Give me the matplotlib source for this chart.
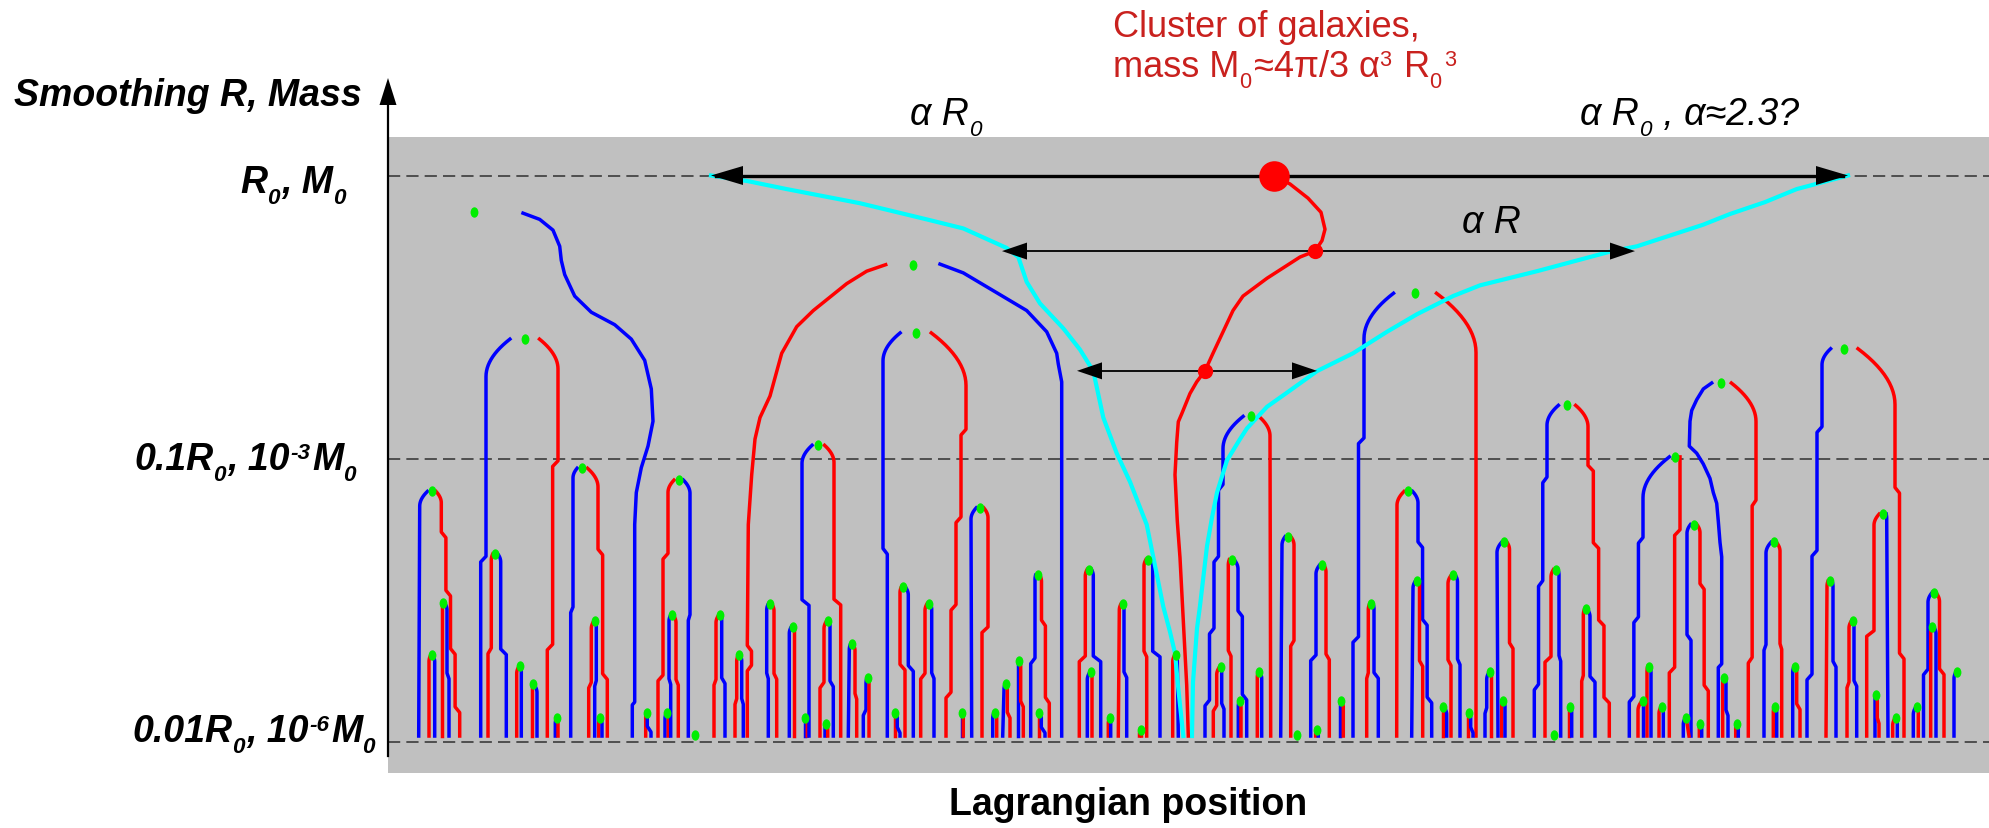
import numpy as np
import matplotlib
matplotlib.use("Agg")
import matplotlib.pyplot as plt
from matplotlib.path import Path
from matplotlib.transforms import Affine2D, IdentityTransform

# x = Lagrangian position (arbitrary units), y = log10(R / R0)
LEVELS = [0, -1, -2]
BASE = -1.98          # where the smallest branches end

# merger points: (x, logR, left colour, left top x, left foot x, right colour, right top x, right foot x)
arches_left = [
    (85.7, -0.13, None, 0, 0, None, 0, 0),
    (136.7, -0.578, 'b', 98, 92.7, 'r', 170, 159.3),
    (43.7, -1.116, 'b', 31.7, 30.7, 'r', 53.3, 71.7),
    (55.0, -1.51, 'r', 54.3, 54.3, 'b', 59, 61),
    (43.7, -1.695, 'r', 41, 41, 'b', 46.7, 46.7),
    (107.3, -1.337, 'r', 103.3, 100, 'b', 112.7, 118.3),
    (132.0, -1.734, 'r', 128.7, 128.7, 'b', 133.3, 133.3),
    (144.7, -1.796, 'r', 144, 144, 'b', 149, 149),
    (169.0, -1.917, 'b', 167.3, 167.3, 'r', 170, 170),
    (194.3, -1.034, 'b', 185, 182.7, 'r', 210, 219.3),
    (207.3, -1.574, 'r', 203.3, 200.7, 'b', 208.3, 206.7),
    (212.0, -1.917, 'r', 210.7, 210.7, 'b', 214, 214),
    (258.7, -1.897, 'r', 257.7, 257.7, 'b', 259.3, 263),
    (279.3, -1.897, 'b', 277, 277, 'r', 280.3, 280.3),
    (284.0, -1.554, 'b', 281, 282.7, 'r', 288, 290.3),
    (290.7, -1.076, 'r', 280, 270, 'b', 302, 300.3),
]
arches_mid = [
    (306.7, -1.977, 'b', 305.5, 305.5, 'b', 308, 308),
    (332.0, -1.554, 'r', 328, 326, 'b', 333.7, 337),
    (351.3, -1.695, 'r', 348.7, 347, 'b', 353.7, 355.3),
    (524.7, -0.315, None, 0, 0, None, 0, 0),
    (382.0, -1.513, 'b', 378.7, 380.3, 'r', 386, 388.7),
    (404.7, -1.594, 'b', 401.3, 401.3, 'r', 406, 406),
    (417.3, -1.917, 'b', 417, 417, 'r', 419.3, 419.3),
    (430.3, -0.953, 'b', 414, 421, 'r', 446, 452.7),
    (440.0, -1.574, 'r', 436, 432, 'b', 442, 445.3),
    (438.3, -1.937, 'b', 437, 437, 'r', 439.7, 439.7),
    (463.7, -1.655, 'b', 461.3, 460.3, 'r', 467, 468.7),
    (479.7, -1.776, 'b', 478, 475.3, 'r', 481, 481),
    (527.7, -0.556, 'b', 495, 499.3, 'r', 578, 558),
    (507.3, -1.897, 'r', 507, 507, 'b', 509.3, 512),
    (515.3, -1.453, 'r', 512, 517, 'b', 520.3, 525.3),
    (540.7, -1.513, 'r', 537, 532.7, 'b', 543.7, 546),
    (592.0, -1.174, 'b', 583, 583.7, 'r', 600, 594),
    (574.3, -1.897, 'b', 573.7, 573.7, 'r', 575.3, 575.3),
    (606.7, -1.897, 'b', 604.7, 604.7, 'r', 608.7, 608.7),
    (618.0, -1.796, 'b', 616, 614.7, 'r', 619.3, 622),
    (630.7, -1.715, 'b', 630, 630, 'r', 632.7, 635.3),
    (649.7, -1.412, 'b', 647, 642.7, 'r', 653.5, 661.3),
    (651.3, -1.897, 'r', 650.7, 650.7, 'b', 653.3, 657),
    (701.3, -1.392, 'r', 697.3, 691.3, 'b', 705.3, 712.7),
    (702.7, -1.755, 'b', 699.3, 699.3, 'r', 704, 704),
    (722.0, -1.917, 'r', 720.3, 720.3, 'b', 722.7, 722.7),
    (734.7, -1.513, 'r', 731.3, 730.3, 'b', 736, 738.7),
    (752.7, -1.957, 'r', 751.5, 751.5, 'r', 753.5, 753.5),
    (760.3, -1.357, 'r', 756, 758.7, 'b', 764.7, 772),
    (787.7, -1.695, 'r', 784.7, 784.7, 'b', 789.3, 790.3),
]
arches_centre = [
    (863.0, -0.851, 'b', 835, 817, 'r', 882, 882.7),
    (843.7, -1.357, 'r', 840.3, 843, 'b', 850, 858.7),
    (832.7, -1.735, 'r', 828.7, 825.3, 'b', 833.7, 836),
    (852.0, -1.856, 'b', 850.3, 850.3, 'r', 853, 853),
    (871.0, -1.755, 'r', 869.3, 869.3, 'b', 873.7, 873.7),
    (900.0, -1.276, 'b', 894, 892.7, 'r', 906, 902.7),
    (909.3, -1.977, 'b', 908, 908, 'r', 910.5, 910.5),
    (933.7, -1.377, 'b', 928, 922.7, 'r', 938, 941.3),
    (928.7, -1.957, 'r', 927.7, 927.7, 'b', 930.3, 930.3),
    (952.7, -1.856, 'b', 952, 952, 'r', 955.3, 955.3),
    (1027.0, -0.416, 'b', 976, 965, 'r', 1088, 1088),
    (1020.3, -1.116, 'r', 1009, 1008.7, 'b', 1030, 1043.7),
    (1029.3, -1.433, 'b', 1025, 1023.7, 'r', 1031.5, 1034.7),
    (983.3, -1.513, 'r', 980.3, 978.7, 'b', 986, 990.3),
    (1065.3, -1.412, 'r', 1060, 1063, 'b', 1069.5, 1072),
    (1055.3, -1.877, 'r', 1054.7, 1054.7, 'b', 1058.7, 1058.7),
    (1080.7, -1.897, 'r', 1080.3, 1080.3, 'b', 1082.7, 1085),
]
arches_right = [
    (1102.0, -1.755, 'b', 1098.7, 1097, 'r', 1102.7, 1102.7),
    (1116.3, -1.296, 'b', 1109, 1110, 'r', 1121.5, 1125),
    (1114.7, -1.856, 'r', 1113.7, 1113.7, 'b', 1117, 1117),
    (1179.0, -0.812, 'b', 1159, 1146.3, 'r', 1200, 1221.3),
    (1167.7, -1.392, 'r', 1163, 1157, 'b', 1171, 1172.7),
    (1166.3, -1.977, 'b', 1165, 1165, 'b', 1168, 1168),
    (1182.0, -1.877, 'r', 1181.3, 1181.3, 'b', 1183.7, 1183.7),
    (1198.0, -1.533, 'r', 1195.3, 1193.7, 'b', 1202, 1207),
    (1287.0, -0.994, 'b', 1255, 1241.3, 'r', 1292, 1281.3),
    (1333.0, -0.733, None, 0, 0, 'r', 1368, 1360.3),
    (1305.7, -1.233, 'b', 1299, 1303, 'r', 1312, 1320.3),
    (1260.7, -1.735, 'r', 1259, 1259, 'b', 1263, 1263),
    (1254.7, -1.856, 'r', 1250, 1250, 'b', 1255.5, 1255.5),
    (1273.7, -1.877, 'r', 1271, 1271, 'b', 1275.3, 1275.3),
    (1297.7, -1.917, 'b', 1295.3, 1295.3, 'r', 1299, 1301),
    (1312.0, -1.937, 'r', 1311.3, 1311.3, 'b', 1313.7, 1313.7),
    (1336.0, -1.776, 'r', 1334.7, 1334.7, 'b', 1338, 1340),
    (1348.7, -1.937, 'r', 1347.7, 1347.7, 'b', 1350.3, 1350.3),
    (1456.3, -0.612, 'b', 1434, 1419, 'r', 1507, 1516),
    (1385.7, -1.296, 'b', 1378, 1376, 'r', 1392, 1393.7),
    (1387.0, -1.877, 'r', 1385.3, 1385.3, 'b', 1388.7, 1388.7),
    (1407.0, -1.735, 'b', 1404.7, 1404.7, 'r', 1408.7, 1412),
    (1442.0, -1.433, 'r', 1439, 1438, 'b', 1445, 1448),
    (1464.7, -1.574, 'r', 1461, 1459, 'b', 1466, 1468.7),
    (1494.7, -1.196, 'r', 1486, 1478.7, 'b', 1498.7, 1500),
    (1488.3, -1.836, 'b', 1487, 1487, 'r', 1489.3, 1491),
    (1507.7, -1.917, 'r', 1504.7, 1504.7, 'b', 1509.3, 1509.3),
    (1546.0, -1.473, 'b', 1540, 1535.5, 'r', 1551.5, 1556),
    (1544.3, -1.594, 'r', 1542.7, 1542.7, 'b', 1548, 1548),
    (1528.7, -1.877, 'b', 1525.3, 1525.3, 'r', 1530.3, 1530.3),
    (1568.7, -1.755, 'b', 1566, 1566, None, 0, 0),
]

# branches that wander too much for the simple arch shape
wavy_blue_x = [135, 151.7, 165, 171.7, 173.3, 176.7, 186.7, 203.3, 226.7, 243.3, 256.7, 263.3,
               265, 260, 253.3, 248.3, 246.7, 246.7, 244.3, 244.3]
wavy_blue_y = [-0.133, -0.155, -0.193, -0.25, -0.30, -0.35, -0.426, -0.483, -0.527, -0.578, -0.653,
               -0.754, -0.868, -0.956, -1.032, -1.12, -1.233, -1.86, -1.87, -1.98]
sweep_red_x = [497.7, 478.7, 458.7, 425.3, 408.7, 393.7, 382, 372, 367, 363.7, 360.3, 359.3,
               363.5, 363.5, 359.3, 359.3]
sweep_red_y = [-0.315, -0.338, -0.382, -0.477, -0.534, -0.628, -0.779, -0.855, -0.931, -1.057,
               -1.233, -1.66, -1.68, -1.73, -1.75, -1.98]
sweep_blue_x = [552, 575.3, 608.7, 638.7, 658.7, 668.7, 670.3, 673.7, 673.7]
sweep_blue_y = [-0.313, -0.344, -0.414, -0.477, -0.552, -0.628, -0.666, -0.729, -1.98]
s_blue_x = [1323.7, 1315.3, 1308.7, 1303.7, 1302, 1301.3, 1308.7, 1315.3, 1322, 1325.3, 1328.7,
            1330.3, 1332, 1333.7, 1333.7, 1330.3, 1330.3]
s_blue_y = [-0.733, -0.754, -0.792, -0.83, -0.868, -0.956, -0.981, -1.019, -1.07, -1.12, -1.158,
            -1.221, -1.296, -1.347, -1.725, -1.738, -1.98]

# cluster trajectory and the two alpha*R envelopes
trunk_x = [886, 902, 920, 933, 937, 934, 927, 912, 879, 855, 845, 825, 817, 808.7, 802, 793.7,
           790.3, 788.7, 787, 789.3, 792, 796, 798.7, 800.3]
trunk_y = [0, -0.03, -0.08, -0.13, -0.19, -0.23, -0.267, -0.288, -0.363, -0.426, -0.477, -0.628,
           -0.69, -0.729, -0.77, -0.842, -0.87, -0.943, -1.057, -1.221, -1.35, -1.62, -1.80, -1.98]
cyan_left_x = [323, 360, 398.7, 472, 538.7, 575.3, 618.7, 630.3, 638.7, 652, 675.3, 692, 705.3,
               715.3, 728.7, 742, 758.7, 775.3, 782, 787, 790.3, 795.3]
cyan_left_y = [0, -0.02, -0.048, -0.098, -0.155, -0.187, -0.256, -0.288, -0.376, -0.452, -0.54,
               -0.615, -0.691, -0.855, -0.981, -1.082, -1.233, -1.523, -1.612, -1.687, -1.813, -1.98]
cyan_right_x = [1460, 1408.7, 1377, 1342, 1315, 1249, 1222, 1149, 1092, 1065, 1029, 999, 965, 929,
                899, 879, 859, 852, 839, 829, 824, 819, 812, 809, 805, 804]
cyan_right_y = [0, -0.048, -0.094, -0.136, -0.174, -0.25, -0.269, -0.338, -0.388, -0.426, -0.49,
                -0.552, -0.628, -0.691, -0.767, -0.817, -0.893, -0.931, -1.006, -1.12, -1.208,
                -1.309, -1.52, -1.6, -1.79, -1.98]

# double arrows (x from, x to, logR) and the cluster points on them
arrows = [(323, 1460, 0.0), (614, 1247, -0.267), (689, 929, -0.69)]
cluster_x = [886, 927, 817]
cluster_y = [0.0, -0.267, -0.69]

W, H = 1990, 829
PX = 283.1   # pixels per decade
GAP = 56.0
LW = 2.5
COL = {'b': '#0000ff', 'r': '#ff0000'}
FONT = ['Liberation Sans', 'DejaVu Sans']


def leg(xd, yd, xt, xf):
    sgn = 1.0 if xt >= xd else -1.0
    x0 = xd + sgn * min(GAP * 10 ** yd, abs(xt - xd))
    dx = abs(xt - x0)
    knee = max(yd - (1.4 * dx + 4) / PX, BASE)
    s = np.linspace(0, 1, 14)
    xs = list(x0 + (xt - x0) * (1 - (1 - s) ** 2))
    ys = list(yd - (yd - knee) * s)
    if abs(xf - xt) > 1.5 and knee - BASE > 0.06:
        n = int(min(4, max(1, round(abs(xf - xt) / 5))))
        step = (xf - xt) / n
        x = xt
        for k in range(n):
            yk = knee + (BASE - knee) * (k + 0.5) / n
            xs += [x, x + step]
            ys += [yk, yk - 0.02]
            x += step
    xs.append(xf)
    ys.append(BASE)
    return xs, ys


def head(ax, xtip, y, sgn, L, hh):
    ax.fill([xtip, xtip - sgn * L, xtip - sgn * L],
            [y, y + hh / 2 / PX, y - hh / 2 / PX],
            color='k', lw=0, zorder=5, clip_on=False)


fig = plt.figure(figsize=(W / 100, H / 100), dpi=100)
ax = fig.add_axes([388 / W, (H - 774) / H, 1602 / W, 636 / H])
ax.set_facecolor('#c0c0c0')
ax.set_xlim(0, 1602)
ax.set_ylim((176.5 - 774) / PX, (176.5 - 138) / PX)
ax.set_xticks([])
ax.set_yticks([])
for sp in ax.spines.values():
    sp.set_visible(False)

for lv in LEVELS:
    ax.axhline(lv, color='#303030', lw=1.1, ls=(0, (8, 4)), zorder=1)

green_x, green_y = [], []
for group in (arches_left, arches_mid, arches_centre, arches_right):
    for xd, yd, lc, lt, lf, rc, rt, rf in group:
        green_x.append(xd)
        green_y.append(yd)
        for c, xt, xf in ((lc, lt, lf), (rc, rt, rf)):
            if c is None or yd - BASE < 0.01:
                continue
            xs, ys = leg(xd, yd, xt, xf)
            ax.plot(xs, ys, color=COL[c], lw=LW, zorder=2)

ax.plot(wavy_blue_x, wavy_blue_y, color=COL['b'], lw=LW, zorder=2)
ax.plot(sweep_red_x, sweep_red_y, color=COL['r'], lw=LW, zorder=2)
ax.plot(sweep_blue_x, sweep_blue_y, color=COL['b'], lw=LW, zorder=2)
ax.plot(s_blue_x, s_blue_y, color=COL['b'], lw=LW, zorder=2)

ax.plot(cyan_left_x, cyan_left_y, color='#00ffff', lw=3.0, zorder=3)
ax.plot(cyan_right_x, cyan_right_y, color='#00ffff', lw=3.0, zorder=3)
ax.plot(trunk_x, trunk_y, color=COL['r'], lw=LW, zorder=3)

for i, (xa, xb, ya) in enumerate(arrows):
    big = i == 0
    L, hh = (32, 19) if big else (25, 17)
    ax.plot([xa + 5, xb - 5], [ya, ya], color='k', lw=2.4 if big else 1.3, zorder=4)
    head(ax, xa, ya, -1, L, hh)
    head(ax, xb, ya, 1, L, hh)

ax.plot(cluster_x[:1], cluster_y[:1], 'o', color=COL['r'], ms=22, mec='none', zorder=6)
ax.plot(cluster_x[1:], cluster_y[1:], 'o', color=COL['r'], ms=11, mec='none', zorder=6)

oval = Path.unit_circle().transformed(Affine2D().scale(0.75, 1.0))
ax.plot(green_x, green_y, ls='none', marker=oval, ms=7.5, color='#00ee00', mec='none',
        zorder=7, clip_on=False)

# vertical axis with arrow
ax.plot([0, 0], [(176.5 - 757) / PX, (176.5 - 104) / PX], color='k', lw=1.6, zorder=5,
        clip_on=False)
ax.fill([0, -8.5, 8.5], [(176.5 - 79) / PX, (176.5 - 106) / PX, (176.5 - 106) / PX],
        color='k', lw=0, zorder=5, clip_on=False)


def rich(x, y, parts, ha='left', size=27, **kw):
    r = fig.canvas.get_renderer()
    em = size * 100 / 72
    arts, cx = [], 0.0
    for s, k in parts:
        fs = size if k == 'n' else size * 0.6
        dy = {'n': 0.0, 'sub': -0.3 * em, 'sup': 0.3 * em}[k]
        t = fig.text(cx, H - y + dy, s, fontsize=fs, transform=IdentityTransform(),
                     va='baseline', ha='left', family=FONT, **kw)
        arts.append(t)
        cx += t.get_window_extent(r).width + (2 if k != 'n' else 0)
    shift = x - {'left': 0.0, 'right': cx, 'center': cx / 2}[ha]
    for t in arts:
        px, py = t.get_position()
        t.set_position((px + shift, py))


bi = dict(weight='bold', style='italic')
rich(14, 106, [('Smoothing R, Mass', 'n')], **bi)
rich(348, 193, [('R', 'n'), ('0', 'sub'), (', M', 'n'), ('0', 'sub')], ha='right', **bi)
rich(358, 470, [('0.1R', 'n'), ('0', 'sub'), (', 10', 'n'), ('-3', 'sup'), ('M', 'n'), ('0', 'sub')],
     ha='right', **bi)
rich(377, 742, [('0.01R', 'n'), ('0', 'sub'), (', 10', 'n'), ('-6', 'sup'), ('M', 'n'), ('0', 'sub')],
     ha='right', **bi)
rich(1128, 815, [('Lagrangian position', 'n')], ha='center', weight='bold')
rich(910, 125, [('α R', 'n'), ('0', 'sub')], style='italic')
rich(1580, 125, [('α R', 'n'), ('0', 'sub'), (' , α≈2.3?', 'n')], style='italic')
rich(1462, 233, [('α R', 'n')], style='italic')
rich(1113, 37, [('Cluster of galaxies,', 'n')], size=26, color='#c9211e')
rich(1113, 77, [('mass M', 'n'), ('0', 'sub'), ('≈4π/3 α', 'n'), ('3', 'sup'), (' R', 'n'),
                ('0', 'sub'), ('3', 'sup')], size=26, color='#c9211e')

fig.savefig('out.png', dpi=100)
